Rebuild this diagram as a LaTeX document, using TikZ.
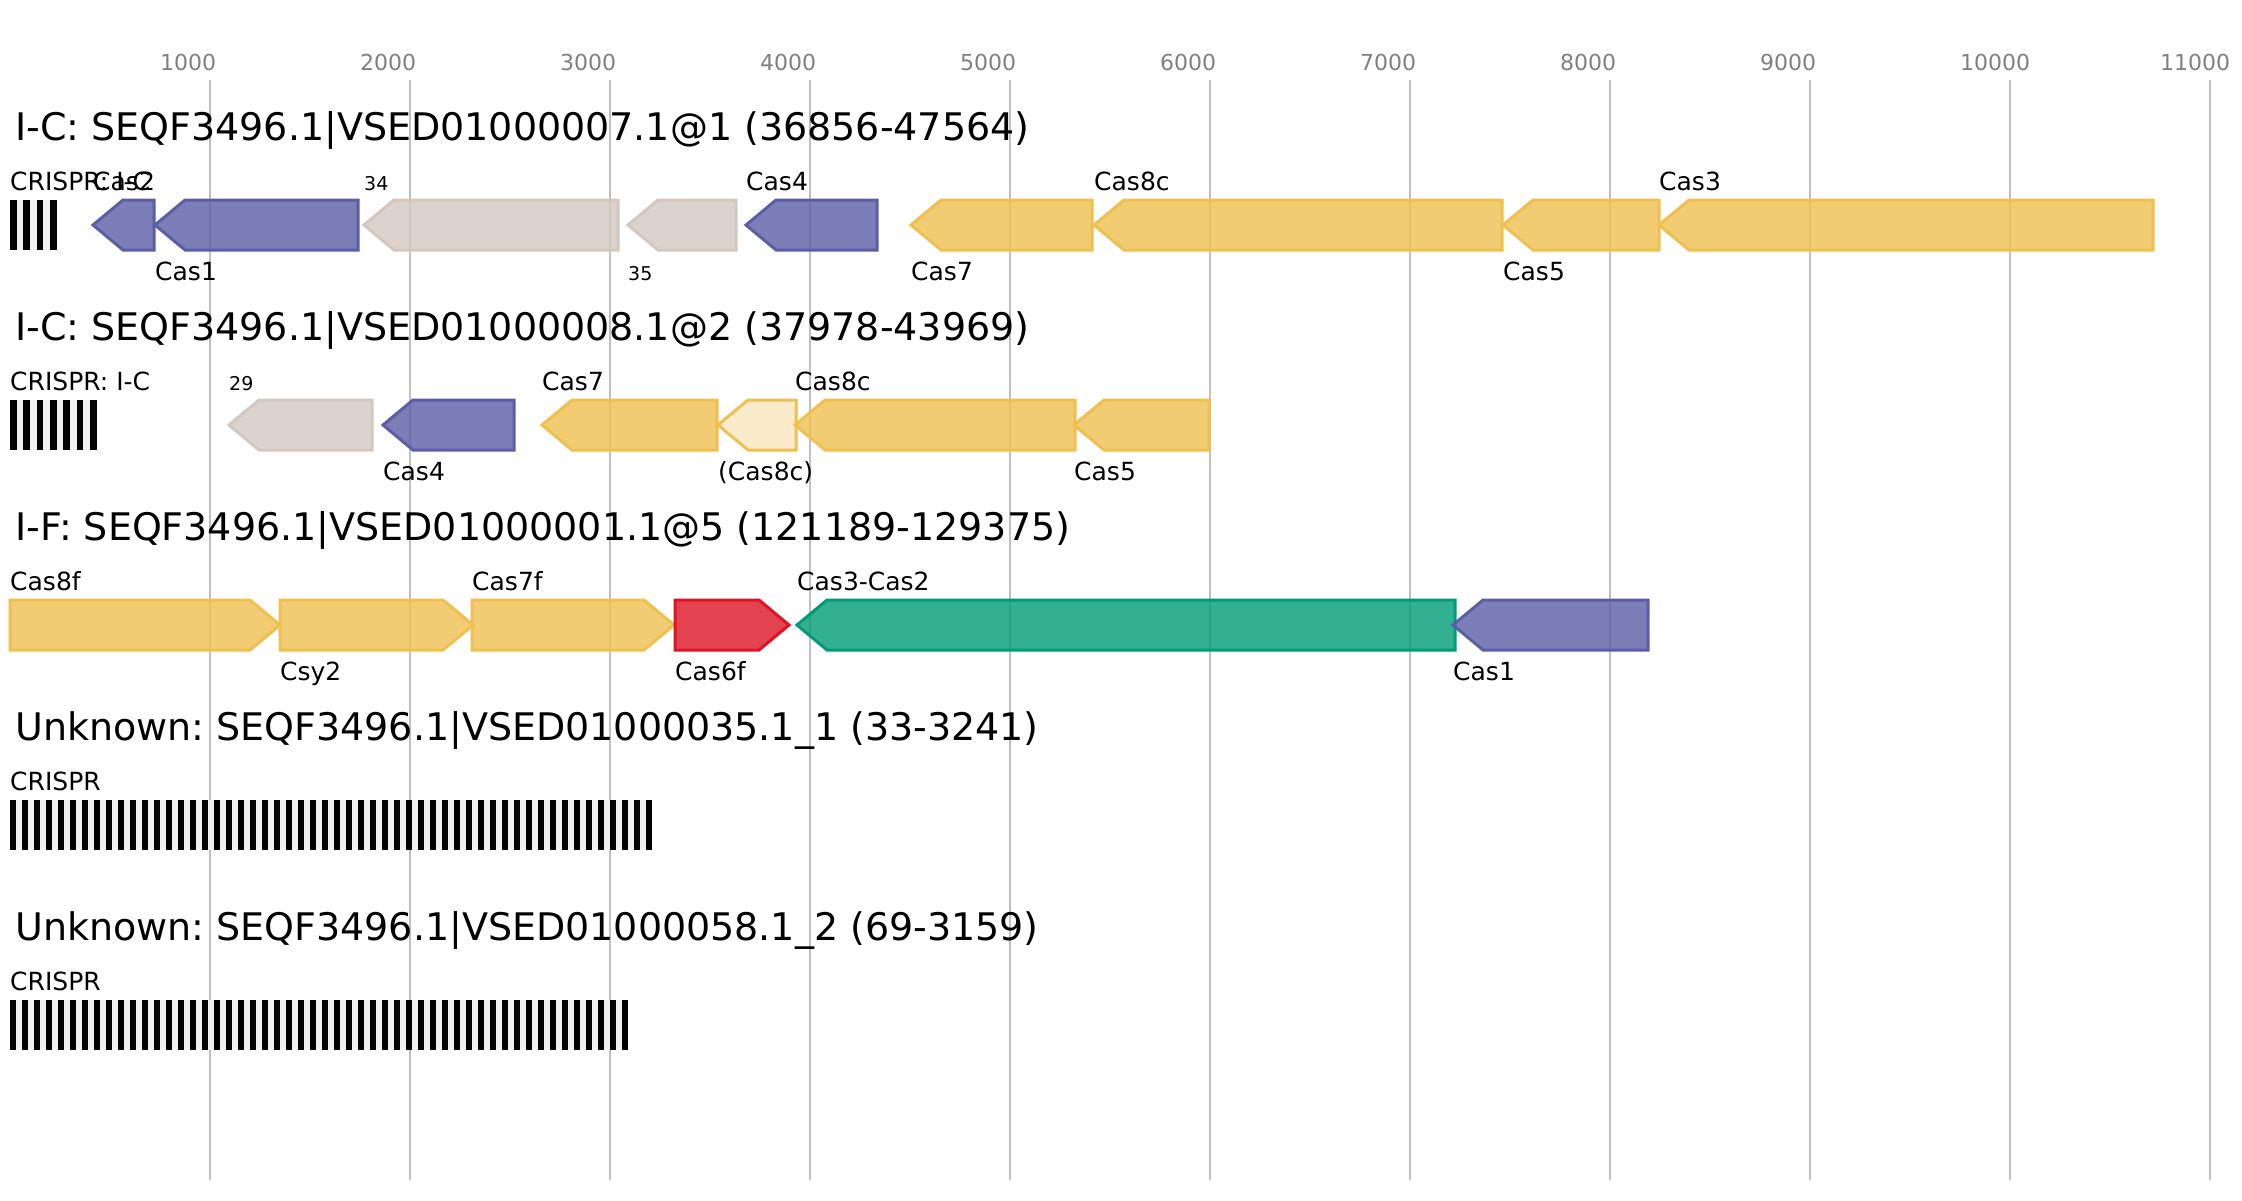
\documentclass[tikz,border=0pt]{standalone}
\usepackage{fontspec}
\setmainfont{DejaVu Sans}
\frenchspacing
\definecolor{cpurple}{HTML}{5B5EA6}
\definecolor{cyellow}{HTML}{EFC050}
\definecolor{cgrey}{HTML}{D3C8C0}
\definecolor{cgreen}{HTML}{009B77}
\definecolor{cred}{HTML}{DD1425}
\definecolor{gridc}{HTML}{C0C0C0}
\definecolor{tickc}{HTML}{808080}
\definecolor{spacer}{HTML}{F0F0F0}
\tikzset{
  gene/.style={line width=3pt, line join=miter, fill opacity=0.8},
  purplegene/.style={gene, draw=cpurple, fill=cpurple},
  yellowgene/.style={gene, draw=cyellow, fill=cyellow},
  greygene/.style={gene, draw=cgrey, fill=cgrey},
  greengene/.style={gene, draw=cgreen, fill=cgreen},
  redgene/.style={gene, draw=cred, fill=cred},
  partialgene/.style={line width=3pt, line join=miter, draw=cyellow, fill=cyellow, fill opacity=0.3},
  titletext/.style={anchor=base west, inner sep=0pt, font=\frenchspacing\fontsize{38}{46}\selectfont},
  lab/.style={anchor=base west, inner sep=0pt, font=\frenchspacing\fontsize{25}{30}\selectfont},
  numlab/.style={anchor=base west, inner sep=0pt, font=\fontsize{19}{23}\selectfont},
  ticklab/.style={anchor=base west, inner sep=0pt, text=tickc, font=\fontsize{22}{26}\selectfont},
  gridline/.style={draw=gridc, line width=2pt},
}
% reverse gene: #1 left (tip) x, #2 right x, #3 top y, #4 style
\newcommand\revgene[4]{\draw[#4] ({#1},{#3+25}) -- ({#1+30},{#3}) -- ({#2},{#3}) -- ({#2},{#3+50}) -- ({#1+30},{#3+50}) -- cycle;}
% forward gene: #1 left x, #2 tip x, #3 top y, #4 style
\newcommand\fwdgene[4]{\draw[#4] ({#1},{#3}) -- ({#2-30},{#3}) -- ({#2},{#3+25}) -- ({#2-30},{#3+50}) -- ({#1},{#3+50}) -- cycle;}
% CRISPR array: #1 bars, #2 period, #3 top y, #4 bar width
\newcommand\crisprarray[4]{%
  \fill[spacer] (10,{#3}) rectangle ({10+(#1-1)*#2+#4},{#3+50});
  \foreach \i in {1,...,#1} {\fill[black] ({10+(\i-1)*#2},{#3}) rectangle ({10+(\i-1)*#2+#4},{#3+50});}
}
\begin{document}
\begin{tikzpicture}[x=1pt,y=-1pt]
\useasboundingbox (0,0) rectangle (2242,1200);
\fill[white] (0,0) rectangle (2242,1200);
% grid and ticks
\foreach \k in {1,...,11} {
  \draw[gridline] ({10+200*\k},80) -- ({10+200*\k},1180);
  \node[ticklab] (tick\k) at ({10+200*\k-50},70.5) {\k000};
}
% ---------- Track 1 ----------
\node[titletext] (title1) at (15,140) {I-C: SEQF3496.1|VSED01000007.1@1 (36856-47564)};
\crisprarray{4}{13.333}{200}{6.667}
\node[lab] (crispr1) at (10,190) {CRISPR: I-C};
\revgene{93}{154}{200}{purplegene}
\node[lab] (t1cas2) at (93,190) {Cas2};
\revgene{155}{358}{200}{purplegene}
\node[lab] (t1cas1) at (155,280) {Cas1};
\revgene{364}{618}{200}{greygene}
\node[numlab] (t1g34) at (364,190) {34};
\revgene{628}{736}{200}{greygene}
\node[numlab] (t1g35) at (628,280) {35};
\revgene{746}{877}{200}{purplegene}
\node[lab] (t1cas4) at (746,190) {Cas4};
\revgene{911}{1092}{200}{yellowgene}
\node[lab] (t1cas7) at (911,280) {Cas7};
\revgene{1094}{1502}{200}{yellowgene}
\node[lab] (t1cas8c) at (1094,190) {Cas8c};
\revgene{1503}{1659}{200}{yellowgene}
\node[lab] (t1cas5) at (1503,280) {Cas5};
\revgene{1659}{2153}{200}{yellowgene}
\node[lab] (t1cas3) at (1659,190) {Cas3};
% ---------- Track 2 ----------
\node[titletext] (title2) at (15,340) {I-C: SEQF3496.1|VSED01000008.1@2 (37978-43969)};
\crisprarray{7}{13.333}{400}{6.667}
\node[lab] (crispr2) at (10,390) {CRISPR: I-C};
\revgene{229}{372}{400}{greygene}
\node[numlab] (t2g29) at (229,390) {29};
\revgene{383}{514}{400}{purplegene}
\node[lab] (t2cas4) at (383,480) {Cas4};
\revgene{542}{717}{400}{yellowgene}
\node[lab] (t2cas7) at (542,390) {Cas7};
\revgene{718}{796}{400}{partialgene}
\node[lab] (t2cas8cp) at (718,480) {(Cas8c)};
\revgene{795}{1075}{400}{yellowgene}
\node[lab] (t2cas8c) at (795,390) {Cas8c};
\revgene{1074}{1209}{400}{yellowgene}
\node[lab] (t2cas5) at (1074,480) {Cas5};
% ---------- Track 3 ----------
\node[titletext] (title3) at (15,540) {I-F: SEQF3496.1|VSED01000001.1@5 (121189-129375)};
\fwdgene{10}{280}{600}{yellowgene}
\node[lab] (t3cas8f) at (10,590) {Cas8f};
\fwdgene{280}{473}{600}{yellowgene}
\node[lab] (t3csy2) at (280,680) {Csy2};
\fwdgene{472}{674}{600}{yellowgene}
\node[lab] (t3cas7f) at (472,590) {Cas7f};
\fwdgene{675}{789}{600}{redgene}
\node[lab] (t3cas6f) at (675,680) {Cas6f};
\revgene{797}{1455}{600}{greengene}
\node[lab] (t3cas32) at (797,590) {Cas3-Cas2};
\revgene{1453}{1648}{600}{purplegene}
\node[lab] (t3cas1) at (1453,680) {Cas1};
% ---------- Track 4 ----------
\node[titletext] (title4) at (15,740) {Unknown: SEQF3496.1|VSED01000035.1\_1 (33-3241)};
\crisprarray{54}{12}{800}{6}
\node[lab] (crispr4) at (10,790) {CRISPR};
% ---------- Track 5 ----------
\node[titletext] (title5) at (15,940) {Unknown: SEQF3496.1|VSED01000058.1\_2 (69-3159)};
\crisprarray{52}{12}{1000}{6}
\node[lab] (crispr5) at (10,990) {CRISPR};
\end{tikzpicture}
\end{document}
